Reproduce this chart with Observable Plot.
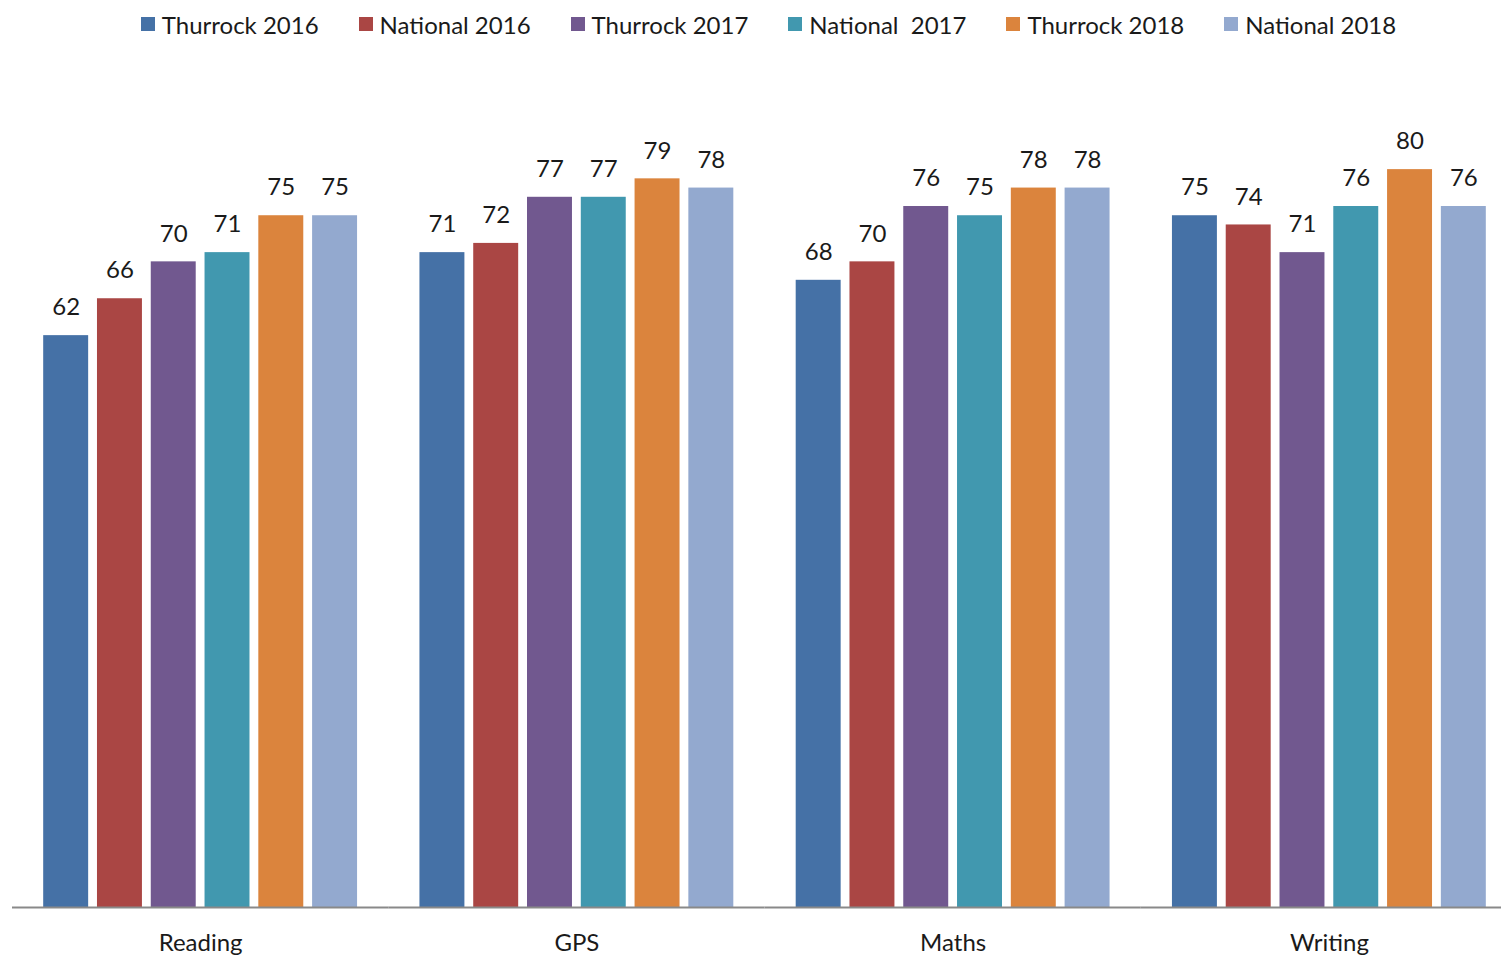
<!DOCTYPE html>
<html>
<head>
<meta charset="utf-8">
<script src="https://cdn.jsdelivr.net/npm/d3@7"></script>
<script src="https://cdn.jsdelivr.net/npm/@observablehq/plot@0.6"></script>
<style>
  html, body { margin: 0; padding: 0; background: #fff; overflow: hidden; }
  #legend { height: 48px; display: flex; justify-content: center; align-items: center; gap: 40px; padding-left: 36px; font-family: Lato, sans-serif; font-size: 24px; color: #1a1a1a; }
  .item { display: flex; align-items: center; gap: 7px; white-space: pre; }
  .sw { width: 14px; height: 14px; display: inline-block; }
  #chart svg { display: block; overflow: hidden; }
</style>
</head>
<body>
<div id="legend"></div>
<div id="chart"></div>
<script>
const categories = ["Reading", "GPS", "Maths", "Writing"];
const series = ["Thurrock 2016", "National 2016", "Thurrock 2017", "National  2017", "Thurrock 2018", "National 2018"];
const colors = ["#4571A6", "#AA4644", "#71588F", "#4198AF", "#DB843D", "#93A9CF"];
const thurrock2016 = [62, 71, 68, 75];
const national2016 = [66, 72, 70, 74];
const thurrock2017 = [70, 77, 76, 71];
const national2017 = [71, 77, 75, 76];
const thurrock2018 = [75, 79, 78, 80];
const national2018 = [75, 78, 78, 76];

const seriesValues = [thurrock2016, national2016, thurrock2017, national2017, thurrock2018, national2018];
const data = [];
categories.forEach((c, i) => {
  series.forEach((s, j) => data.push({category: c, series: s, value: seriesValues[j][i]}));
});

const legend = document.getElementById("legend");
series.forEach((s, j) => {
  const it = document.createElement("div");
  it.className = "item";
  const sw = document.createElement("span");
  sw.className = "sw";
  sw.style.background = colors[j];
  const t = document.createElement("span");
  t.textContent = s;
  it.appendChild(sw); it.appendChild(t);
  legend.appendChild(it);
});

const chart = Plot.plot({
  width: 1501,
  height: 908,
  marginTop: 75,
  marginBottom: 49,
  marginLeft: 12,
  marginRight: -16,
  style: {fontFamily: "Lato, sans-serif", fontSize: "24px", color: "#1a1a1a"},
  fx: {domain: categories, paddingInner: 0, paddingOuter: 0, round: false, label: null, tickSize: 0, tickPadding: 26, axis: "bottom"},
  x: {domain: series, axis: null, round: false, paddingInner: 0.164, paddingOuter: 0.58},
  y: {domain: [0, 85], axis: null},
  color: {domain: series, range: colors},
  marks: [
    Plot.barY(data, {fx: "category", x: "series", y: "value", fill: "series"}),
    Plot.text(data, {fx: "category", x: "series", y: "value", text: d => String(d.value), dy: -28, fill: "#1a1a1a"}),
    Plot.ruleY([0], {stroke: "#898989", strokeWidth: 2})
  ]
});
document.getElementById("chart").appendChild(chart);
</script>
</body>
</html>
